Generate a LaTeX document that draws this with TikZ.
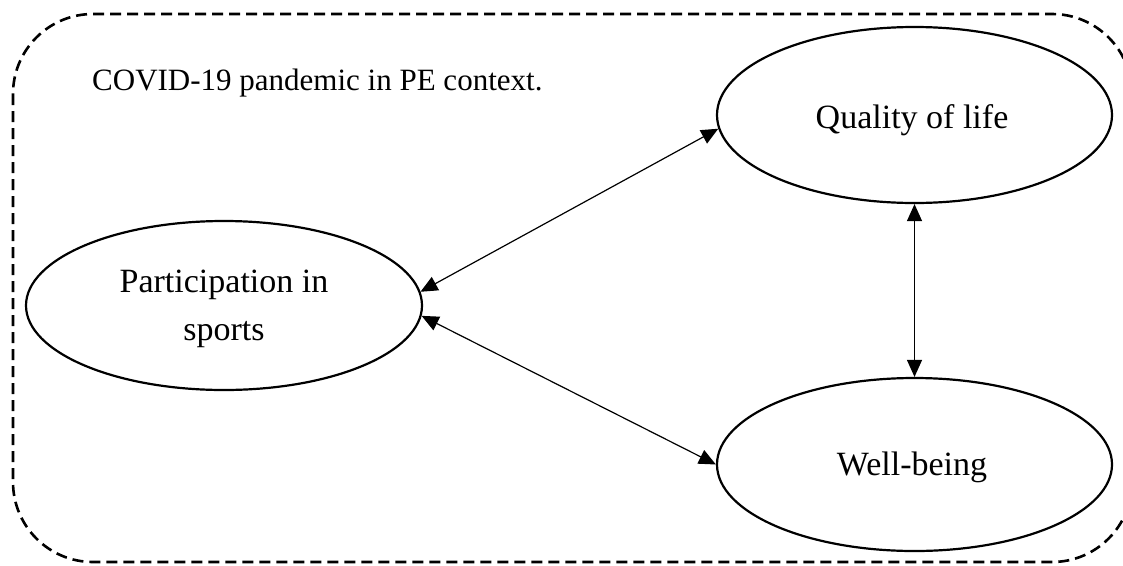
\documentclass[tikz,border=0pt]{standalone}
\usepackage{fontspec}
\setmainfont{Liberation Serif}
\usetikzlibrary{shapes.geometric,arrows.meta}
\tikzset{
  frame/.style={draw=black, line width=2.6pt, dash pattern=on 11pt off 6pt, rounded corners=80pt},
  oval/.style={draw=black, line width=2.2pt, ellipse, inner sep=0pt, minimum width=395pt},
  txt/.style={font=\fontsize{34}{48}\selectfont, inner sep=0pt, anchor=base, align=center},
  link/.style={line width=1.2pt, {Triangle[length=17pt,width=15pt]}-{Triangle[length=17pt,width=15pt]}}
}
\begin{document}
\begin{tikzpicture}[x=1pt,y=-1pt]
\useasboundingbox (0,0) rectangle (1123,565);
\clip (0,0) rectangle (1123,565);
\draw[frame] (13,14) rectangle (1132,562);
\node[txt, font=\fontsize{31}{48}\selectfont, anchor=base west] (title) at (92,90) {COVID-19 pandemic in PE context.};
\node[oval, minimum width=396pt, minimum height=169pt] (P) at (224,305.5) {};
\node[oval, minimum width=395pt, minimum height=176pt] (Q) at (914.5,115) {};
\node[oval, minimum width=395pt, minimum height=173pt] (W) at (914.5,464.5) {};
\node[txt] (Pt) at (224,340) {Participation in\\sports};
\node[txt] (Qt) at (912,128) {Quality of life};
\node[txt] (Wt) at (912,475) {Well-being};
\draw[link] (P.4) -- (Q.184);
\draw[link] (P.357) -- (W.west);
\draw[link] (Q.south) -- (W.north);
\end{tikzpicture}
\end{document}
